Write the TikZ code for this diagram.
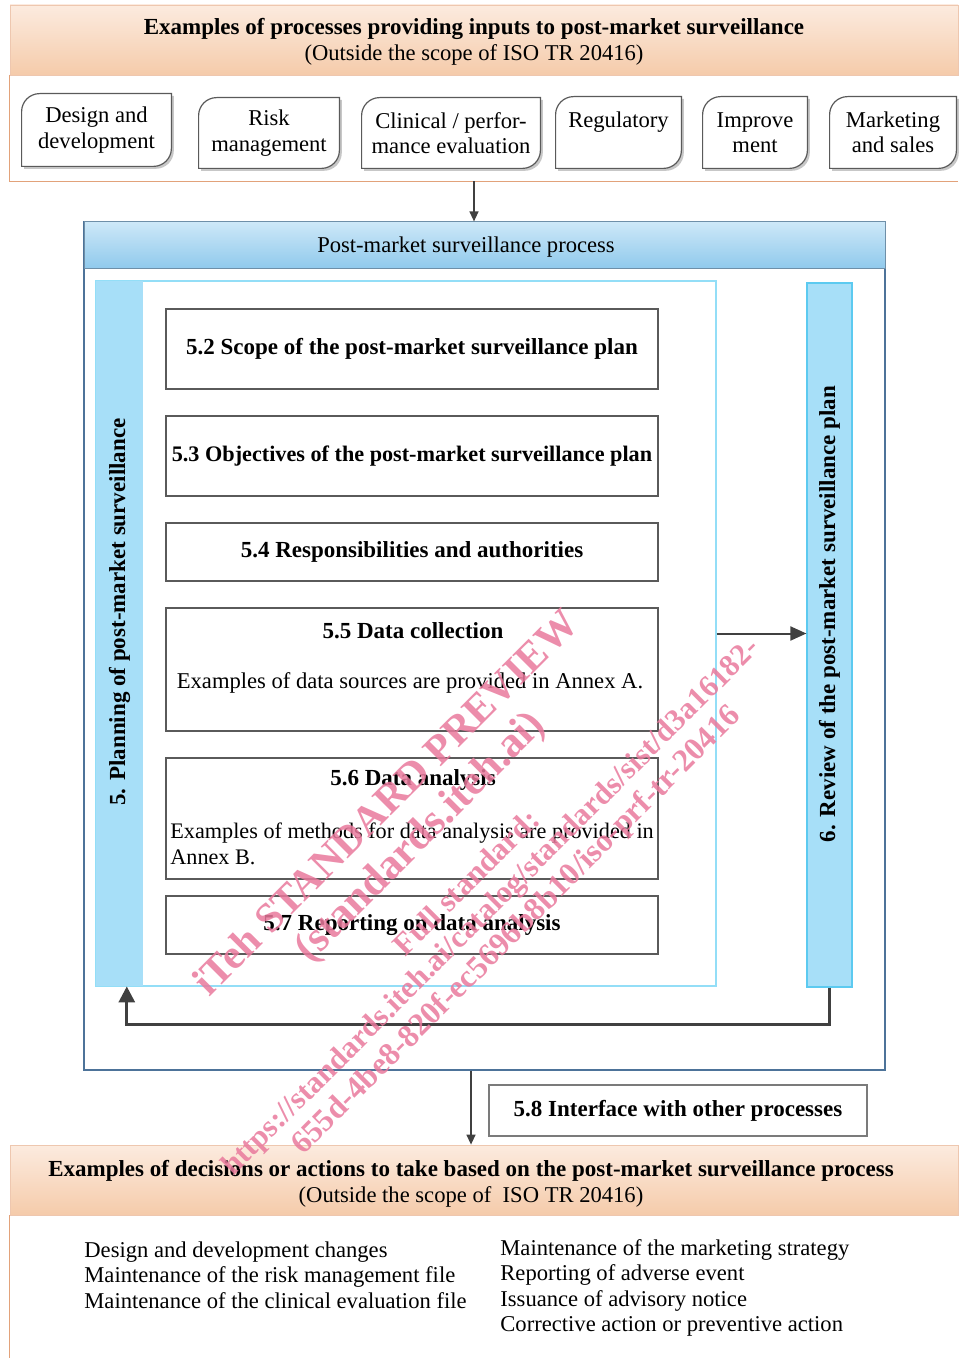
\documentclass[tikz,border=0pt]{standalone}
\usepackage{graphicx}
\usepackage{fontspec}
\setmainfont{Liberation Serif}
\usetikzlibrary{arrows.meta}
\pgfdeclarelayer{background}
\pgfsetlayers{background,main}

\definecolor{hdrorangetop}{HTML}{FCEBDF}
\definecolor{hdrorangebot}{HTML}{F5CBAA}
\definecolor{orangeline}{HTML}{E2A27A}
\definecolor{hdrbluetop}{HTML}{CDE8F8}
\definecolor{hdrbluebot}{HTML}{8FC9EC}
\definecolor{hdrblueline}{HTML}{6E8FA8}
\definecolor{stripblue}{HTML}{A7DFF8}
\definecolor{stripline}{HTML}{5CCAF0}
\definecolor{planline}{HTML}{93DEF7}
\definecolor{frameline}{HTML}{4D7399}
\definecolor{boxgray}{HTML}{5A5A5A}
\definecolor{arrowgray}{HTML}{404040}
\definecolor{wmpink}{HTML}{E9799C}

\begin{document}
\begin{tikzpicture}[x=0.5pt,y=-0.5pt,
  font=\fontsize{11.3}{12.75}\selectfont,
  hdrorange/.style={top color=hdrorangetop,bottom color=hdrorangebot,draw=orangeline!60,line width=0.4pt,minimum width=474pt,minimum height=35pt,inner sep=0pt},
  hdrblue/.style={top color=hdrbluetop,bottom color=hdrbluebot,draw=hdrblueline,line width=0.5pt,minimum width=400.5pt,minimum height=23.5pt,inner sep=0pt},
  procbox/.style={align=center,inner sep=0pt},
  procline/.style={draw=boxgray,line width=0.6pt,fill=white,preaction={fill=black!22,transform canvas={shift={(1.2pt,-1.2pt)}}}},
  secbox/.style={draw=boxgray,line width=0.6pt,minimum width=246pt,inner sep=0pt},
  sectitle/.style={font=\fontsize{11.5}{12.75}\selectfont\bfseries},
  strip/.style={fill=stripblue,inner sep=0pt,minimum width=23.5pt,minimum height=352.5pt},
  striptext/.style={rotate=90,font=\fontsize{11.5}{12.75}\selectfont\bfseries},
  lefttext/.style={align=left,anchor=west,inner sep=0pt},
  flow/.style={draw=arrowgray,line width=0.7pt,-{Triangle[length=5pt,width=4.5pt]}},
  bigflow/.style={draw=arrowgray,line width=1pt,-{Triangle[length=8pt,width=7pt]}},
  loopflow/.style={draw=arrowgray,line width=1.5pt,-{Triangle[length=8pt,width=8pt]}},
  watermark/.style={rotate=45,text=wmpink,opacity=0.85,font=\bfseries,inner sep=0pt}
]
\useasboundingbox (0,0) rectangle (958,1358);

% inputs to post-market surveillance
\node[hdrorange] (inhdr) at (484,40) {};
\node[align=center] (inhdrtxt) at (474,42) {\textbf{\fontsize{11.5}{12.75}\selectfont Examples of processes providing inputs to post-market surveillance}\\(Outside the scope of ISO TR 20416)};
\node[minimum width=474pt,minimum height=53pt,inner sep=0pt] (incont) at (484,128) {};
\draw[orangeline,line width=0.6pt] (incont.north west) -- (incont.south west) -- (incont.south east);

\node[procbox,minimum width=74.5pt,minimum height=36pt] (dd) at (96.5,130) {Design and\\development};
\node[procbox,minimum width=70pt,minimum height=35pt] (rm) at (269,133) {Risk\\management};
\node[procbox,minimum width=89pt,minimum height=35pt] (ce) at (451,133) {Clinical / perfor-\\mance evaluation};
\node[procbox,minimum width=62.5pt,minimum height=35.5pt] (rg) at (618.5,132.5) {Regulatory\\\phantom{R}};
\node[procbox,minimum width=52pt,minimum height=35.5pt] (im) at (755,132.5) {Improve\\ment};
\node[procbox,minimum width=63pt,minimum height=35.5pt] (ms) at (893,132.5) {Marketing\\and sales};
\begin{pgfonlayer}{background}
\foreach \n in {dd,rm,ce,rg,im,ms}
  \draw[procline] ([yshift=-9pt]\n.north west) arc[start angle=180,end angle=90,radius=9pt] -- (\n.north east)
    -- ([yshift=9pt]\n.south east) arc[start angle=0,end angle=-90,radius=9pt] -- (\n.south west) -- cycle;
\end{pgfonlayer}

% post-market surveillance process
\node[draw=frameline,line width=0.6pt,minimum width=400.5pt,minimum height=424pt,inner sep=0pt] (pms) at (484.5,646) {};
\node[hdrblue] (pmshdr) at (484.5,245.5) {};
\node (pmstitle) at (466,247) {Post-market surveillance process};
\draw[flow] ([xshift=-5pt]incont.south) -- ([xshift=-5pt]incont.south |- pms.north);

\node[draw=planline,line width=0.6pt,minimum width=310pt,minimum height=352.5pt,inner sep=0pt] (plan) at (406,633.5) {};
\node[strip,anchor=west] (planstrip) at (plan.west) {};
\node[striptext] (plantxt) at (119.5,612) {5. Planning of post-market surveillance};
\node[strip,draw=stripline,line width=0.6pt,minimum width=22.5pt,minimum height=352pt] (revstrip) at (829.5,635) {};
\node[striptext] (revtxt) at (829.5,614) {6. Review of the post-market surveillance plan};

\node[secbox,minimum height=40pt,sectitle] (s52) at (412,349) {5.2 Scope of the post-market surveillance plan};
\node[secbox,minimum height=40pt,sectitle,font=\fontsize{11.1}{12.75}\selectfont\bfseries] (s53) at (412,456) {5.3 Objectives of the post-market surveillance plan};
\node[secbox,minimum height=29pt,sectitle] (s54) at (412,552) {5.4 Responsibilities and authorities};
\node[secbox,minimum height=61.5pt] (s55) at (412,669.5) {};
\node[sectitle] (s55t) at (413,631) {5.5 Data collection};
\node (s55b) at (410,683) {Examples of data sources are provided in Annex A.};
\node[secbox,minimum height=60.5pt] (s56) at (412,818.5) {};
\node[sectitle] (s56t) at (413,780) {5.6 Data analysis};
\node[lefttext,font=\fontsize{11.1}{12.75}\selectfont] (s56b) at (170,844) {Examples of methods for data analysis are provided in\\Annex B.};
\node[secbox,minimum height=29pt,sectitle] (s57) at (412,925) {5.7 Reporting on data analysis};

\draw[bigflow] (plan.east) -- (revstrip.west |- plan.east);
\draw[loopflow] (revstrip.south) -- ++(0,37) -| ([xshift=3.75pt]planstrip.south);

% decisions and actions
\node[secbox,minimum width=189pt,minimum height=25.5pt,sectitle,draw=boxgray!80] (s58) at (678,1110.5) {5.8 Interface with other processes};
\node[hdrorange] (outhdr) at (484,1180) {};
\node[align=center] (outhdrtxt) at (471,1184) {\textbf{\fontsize{11.5}{12.75}\selectfont Examples of decisions or actions to take based on the post-market surveillance process}\\(Outside the scope of\ \ ISO TR 20416)};
\draw[orangeline,line width=0.6pt] (outhdr.south west) -- (outhdr.south west |- 0,1358);
\draw[flow] ([xshift=-6.75pt]pms.south) -- ([xshift=-6.75pt]pms.south |- outhdr.north);

\node[lefttext] (leftlist) at (84,1275) {Design and development changes\\Maintenance of the risk management file\\Maintenance of the clinical evaluation file};
\node[lefttext] (rightlist) at (500,1288) {Maintenance of the marketing strategy\\Reporting of adverse event\\Issuance of advisory notice\\Corrective action or preventive action};

% watermark
\node[watermark] (wm1) at (385,802) {\resizebox{263pt}{!}{iTeh STANDARD PREVIEW}};
\node[watermark] (wm2) at (421,838) {\resizebox{167pt}{!}{(standards.iteh.ai)}};
\node[watermark] (wm3) at (466,882) {\resizebox{96pt}{!}{Full standard:}};
\node[watermark] (wm4) at (492,908) {\resizebox{373pt}{!}{https://standards.iteh.ai/catalog/standards/sist/d3a16182-}};
\node[watermark] (wm5) at (517,931) {\resizebox{310pt}{!}{655d-4be8-820f-ec5696b8b10/iso-prf-tr-20416}};
\end{tikzpicture}
\end{document}
